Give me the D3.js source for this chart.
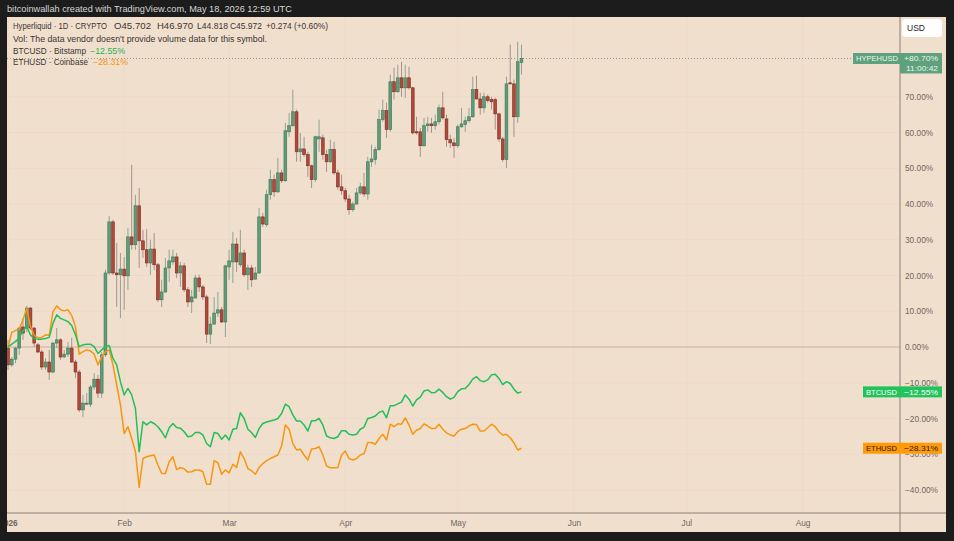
<!DOCTYPE html>
<html>
<head>
<meta charset="utf-8">
<script src="https://cdn.jsdelivr.net/npm/d3@7/dist/d3.min.js"></script>
<style>
  body { margin: 0; background: #1c1c1c; }
  svg { display: block; font-family: "Liberation Sans", Arial, sans-serif; }
</style>
</head>
<body>
<svg id="chart" width="954" height="541"></svg>
<script>
// daily candles, Jan 1 .. May 18 2026, values in % vs first close
const days = d3.utcDay.range(new Date(Date.UTC(2026, 0, 1)), new Date(Date.UTC(2026, 4, 19)));

const hypeOpen = [-0.3,-5.0,-3.4,-0.3,5.6,5.3,10.9,5.3,0.6,-1.4,-5.6,-4.2,-7.0,1.1,2.0,-2.8,-2.0,-0.3,-4.2,-7.0,
  -17.6,-16.0,-16.0,-11.2,-9.0,-12.9,-2.2,20.7,35.0,20.7,20.2,21.8,19.9,30.8,28.6,39.5,29.7,27.2,23.5,27.4,
  23.0,13.2,15.4,22.1,23.8,25.2,20.7,22.7,16.0,12.6,13.7,19.3,16.8,14.0,3.6,6.4,9.5,10.4,7.0,22.4,
  23.8,28.8,23.0,26.3,20.2,22.1,19.0,20.7,36.4,34.2,42.6,46.8,43.4,48.7,46.5,60.2,61.9,65.8,54.6,55.4,
  53.8,50.7,46.8,58.2,58.5,53.8,51.8,55.2,48.7,44.8,43.7,41.4,38.4,40.0,43.1,44.8,42.8,51.8,52.4,55.2,
  63.6,66.1,60.8,74.2,71.4,75.3,72.5,75.3,72.5,60.2,60.2,56.3,61.9,62.4,61.9,63.0,66.9,63.8,58.0,57.1,
  56.3,61.6,62.2,63.3,64.4,72.0,69.4,66.9,70.0,69.2,69.2,65.2,58.2,52.4,73.9,73.6,64.4,79.6];
const hypeHigh = [2.0,-2.8,0,5.6,8.1,11.5,11.2,5.6,1.1,-0.8,-3.1,-0.8,1.4,5.3,2.5,-0.8,1.4,2.5,-3.6,-6.4,
  -13.4,-12.9,-10.6,-7.3,-7.8,-1.4,21.6,36.7,35.6,29.1,26.3,25.2,33.3,51.0,42.6,44.5,32.8,33.0,30.0,31.9,
  23.5,18.8,24.9,27.2,27.2,26.3,23.8,23.5,16.8,16.0,20.2,20.2,17.4,14.6,8.4,14.0,15.4,11.2,23.0,27.2,
  32.2,30.5,32.8,27.2,23.0,23.0,22.4,38.9,37.5,44.0,49.6,48.2,52.9,49.6,62.7,65.5,72.0,66.4,59.9,58.8,
  54.6,51.0,59.1,63.6,59.4,55.2,58.0,57.4,49.6,48.2,44.5,42.6,40.6,44.5,45.9,48.7,53.2,56.6,56.0,66.4,
  69.2,68.3,76.2,78.1,79.0,79.8,79.0,78.4,72.8,64.4,61.3,64.1,64.4,64.1,65.0,67.8,71.4,65.0,59.4,58.5,
  62.2,66.9,64.4,66.9,75.6,75.9,71.1,71.1,70.6,70.0,69.7,65.5,58.8,75.6,84.6,74.8,85.4,84.6];
const hypeLow = [-6.4,-5.6,-4.5,-2.2,2.0,4.2,4.8,0,-1.7,-6.4,-6.4,-9.2,-7.3,-0.3,-3.6,-3.1,-2.8,-4.5,-8.7,-18.2,
  -19.6,-16.2,-16.8,-12.0,-14.3,-14.3,-2.8,20.2,20.2,11.2,8.1,10.4,16.0,27.2,27.2,22.1,24.9,22.4,20.2,21.6,
  12.6,11.2,15.1,18.2,23.0,19.3,16.8,15.4,11.2,9.5,13.7,15.4,13.2,1.1,0.8,6.2,8.4,6.7,2.8,18.8,
  17.9,21.0,22.4,19.6,16.0,16.8,18.8,20.4,33.6,33.6,41.2,42.0,43.1,45.9,46.2,58.8,61.6,51.8,51.8,53.2,
  47.6,44.5,46.2,54.6,52.4,49.0,51.5,48.2,44.0,42.6,40.6,37.0,37.8,39.8,42.6,42.0,41.2,50.4,51.0,54.9,
  63.0,58.5,60.2,69.2,71.1,70.0,69.7,72.0,59.4,59.4,53.2,56.0,60.2,59.9,60.8,62.2,63.6,56.0,55.7,52.9,
  55.7,61.3,60.2,62.7,64.1,69.2,65.0,65.5,68.3,66.4,60.8,57.4,51.8,50.1,73.4,58.8,62.7,76.2];
const hypeClose = [-5.0,-3.4,-0.3,5.3,3.9,10.9,5.3,1.1,-1.4,-5.6,-4.2,-7.0,1.1,2.0,-2.8,-2.0,-0.3,-4.2,-7.0,-17.6,
  -15.7,-15.7,-11.2,-9.0,-12.9,-2.2,20.7,35.0,20.7,20.2,21.8,19.9,30.8,28.6,39.5,29.7,27.2,23.5,27.4,23.0,
  13.2,15.4,22.1,24.1,25.2,20.7,22.7,16.0,12.6,14.0,19.3,16.8,14.0,3.6,6.4,9.5,10.4,7.0,22.7,24.1,
  28.8,23.8,26.3,20.2,22.1,18.8,20.7,36.4,34.4,42.6,46.8,43.4,48.7,46.5,60.5,61.9,65.8,54.6,55.4,53.8,
  50.7,46.8,58.8,58.8,53.8,51.8,55.2,48.7,44.8,43.7,41.4,38.4,40.0,43.1,44.8,42.8,51.8,52.6,55.2,63.6,
  66.1,60.8,74.2,71.4,75.3,72.5,75.3,72.5,59.9,59.9,56.3,61.9,62.4,61.9,63.0,66.9,64.1,58.0,57.1,56.3,
  61.6,62.4,63.3,64.4,72.0,69.4,66.9,70.0,68.9,68.6,65.2,58.2,52.4,73.6,73.6,64.4,79.8,80.7];

const btcPct = [0,0.8,1.5,2.6,4.5,5.7,3.4,2.4,2.2,2.2,2.4,2.7,6.6,9.0,8.0,7.6,7.1,6.0,3.4,0.1,
  0.6,0.8,0.8,0.1,-1.8,-0.8,0.1,0.4,-3.2,-5.0,-9.7,-13.4,-11.6,-13.4,-17.2,-29.3,-20.9,-21.8,-20.9,-21.4,
  -22.3,-23.7,-25.4,-22.6,-21.4,-22.5,-22.7,-23.7,-25.1,-24.9,-23.9,-23.9,-24.6,-27.0,-27.9,-23.9,-24.2,-25.8,-24.6,-26.0,
  -23.0,-22.8,-18.4,-20.0,-23.0,-24.0,-25.3,-22.8,-21.4,-21.0,-20.7,-20.4,-20.0,-18.6,-16.0,-16.7,-19.0,-20.7,-20.7,-21.8,
  -23.5,-20.6,-20.6,-20.0,-21.8,-24.9,-25.4,-25.6,-25.1,-23.4,-23.4,-24.4,-24.6,-24.4,-23.0,-22.4,-20.0,-19.7,-19.3,-18.3,
  -17.9,-19.8,-16.4,-16.4,-15.9,-15.4,-13.4,-14.6,-16.5,-14.8,-14.0,-12.3,-12.0,-12.8,-12.7,-11.8,-12.7,-13.9,-14.6,-14.1,
  -12.5,-11.7,-11.6,-10.5,-9.0,-8.3,-9.4,-9.7,-9.2,-7.8,-7.6,-8.8,-10.5,-9.7,-10.2,-11.8,-12.9,-12.55];
const ethPct = [0,4.1,4.6,5.0,7.6,10.8,5.7,3.2,2.6,2.6,3.4,3.2,9.9,11.5,10.4,10.1,10.4,8.8,5.7,-2.0,
  -1.3,-0.8,-1.1,-2.0,-5.0,-2.7,-1.3,-0.8,-5.0,-10.6,-16.2,-24.2,-22.3,-25.6,-29.3,-39.3,-31.2,-30.7,-30.4,-30.2,
  -33.0,-35.4,-35.4,-32.1,-30.7,-34.3,-33.7,-34.1,-35.0,-34.9,-34.4,-34.4,-34.9,-38.4,-38.4,-31.8,-32.4,-35.6,-34.4,-35.2,
  -32.8,-33.7,-29.3,-31.2,-34.0,-34.6,-35.6,-33.7,-32.6,-31.8,-31.2,-30.7,-30.2,-27.7,-21.8,-23.0,-27.0,-28.8,-28.6,-30.2,
  -31.6,-28.5,-28.4,-27.9,-30.2,-33.3,-33.8,-33.8,-33.7,-30.2,-29.1,-31.2,-31.6,-31.2,-30.2,-29.8,-26.7,-26.7,-27.2,-25.6,
  -24.4,-26.0,-21.6,-22.3,-21.5,-21.6,-19.8,-21.8,-24.4,-23.3,-22.8,-21.5,-22.1,-22.8,-22.8,-21.6,-23.0,-24.0,-24.6,-24.9,
  -23.7,-23.0,-22.8,-22.1,-21.6,-21.7,-23.5,-23.5,-22.6,-21.6,-22.3,-23.7,-24.6,-24.4,-25.4,-26.8,-28.8,-28.31];

// 80% sits under the HYPEHUSD tag in the original, so it is left out
const yTicks = [-40, -30, -20, -10, 0, 10, 20, 30, 40, 50, 60, 70];
const monthTicks = [0, 1, 2, 3, 4, 5, 6, 7].map(m => new Date(Date.UTC(2026, m, 1)));
const monthLabels = ["2026", "Feb", "Mar", "Apr", "May", "Jun", "Jul", "Aug"];

const svg = d3.select("#chart");
const panelL = 7, panelR = 946, panelT = 17, panelB = 532;
const plotR = 900, plotB = 513;

const pctFmt = v => (v < 0 ? "\u2212" : "") + Math.abs(v).toFixed(2) + "%";

const x = d3.scaleUtc()
  .domain([new Date(Date.UTC(2026, 0, 1)), new Date(Date.UTC(2026, 7, 27))])
  .range([8, plotR]);
const y = d3.scaleLinear().domain([-40, 70]).range([490, 96.75]);

// top caption
svg.append("text").attr("x", 7).attr("y", 12)
  .attr("fill", "#d6d6d6").attr("font-size", 9.2)
  .text("bitcoinwallah created with TradingView.com, May 18, 2026 12:59 UTC");

// chart panel
svg.append("rect").attr("x", panelL).attr("y", panelT)
  .attr("width", panelR - panelL).attr("height", panelB - panelT)
  .attr("fill", "#f1dfce");

svg.append("clipPath").attr("id", "plotclip").append("rect")
  .attr("x", panelL).attr("y", panelT).attr("width", plotR - panelL).attr("height", plotB - panelT);
svg.append("clipPath").attr("id", "panelclip").append("rect")
  .attr("x", panelL).attr("y", panelT).attr("width", panelR - panelL).attr("height", panelB - panelT);

const plot = svg.append("g").attr("clip-path", "url(#plotclip)");

// faint grid
plot.selectAll(".vgrid").data(monthTicks).enter().append("line")
  .attr("x1", d => x(d)).attr("x2", d => x(d))
  .attr("y1", panelT).attr("y2", plotB)
  .attr("stroke", "#ecd9c7").attr("stroke-width", 1);
plot.selectAll(".hgrid").data(yTicks).enter().append("line")
  .attr("x1", panelL).attr("x2", plotR)
  .attr("y1", d => y(d)).attr("y2", d => y(d))
  .attr("stroke", "#ecd9c7").attr("stroke-width", 1);

// zero line
plot.append("line").attr("x1", panelL).attr("x2", plotR)
  .attr("y1", y(0)).attr("y2", y(0))
  .attr("stroke", "#c4b3a3").attr("stroke-width", 1);

// last price dotted line
const lastHype = hypeClose[hypeClose.length - 1];
plot.append("line").attr("x1", panelL).attr("x2", plotR)
  .attr("y1", y(lastHype)).attr("y2", y(lastHype))
  .attr("stroke", "#8f9a92").attr("stroke-width", 1).attr("stroke-dasharray", "1,2");

// candles
const candles = days.map((d, i) => ({
  date: d, o: hypeOpen[i], h: hypeHigh[i], l: hypeLow[i], c: hypeClose[i]
}));
const bw = 2.8;
const cg = plot.append("g");
cg.selectAll(".wick").data(candles).enter().append("line")
  .attr("x1", d => x(d.date)).attr("x2", d => x(d.date))
  .attr("y1", d => y(d.h)).attr("y2", d => y(d.l))
  .attr("stroke", d => d.c >= d.o ? "#8fa395" : "#a8908a").attr("stroke-width", 1);
cg.selectAll(".body").data(candles).enter().append("rect")
  .attr("x", d => x(d.date) - bw / 2)
  .attr("y", d => y(Math.max(d.o, d.c)))
  .attr("width", bw)
  .attr("height", d => Math.max(1, Math.abs(y(d.o) - y(d.c))))
  .attr("fill", d => d.c >= d.o ? "#5f9d79" : "#b2483a")
  .attr("stroke", d => d.c >= d.o ? "#3f7657" : "#7c2c22")
  .attr("stroke-width", 0.6);

// comparison lines
const line = d3.line().x((d, i) => x(days[i])).y(d => y(d));
plot.append("path").datum(ethPct).attr("d", line)
  .attr("fill", "none").attr("stroke", "#f7960f").attr("stroke-width", 1.5)
  .attr("stroke-linejoin", "round");
plot.append("path").datum(btcPct).attr("d", line)
  .attr("fill", "none").attr("stroke", "#22bf5a").attr("stroke-width", 1.5)
  .attr("stroke-linejoin", "round");

// axis borders
svg.append("line").attr("x1", panelL).attr("x2", panelR).attr("y1", plotB).attr("y2", plotB)
  .attr("stroke", "#8a8178").attr("stroke-width", 1);
svg.append("line").attr("x1", plotR).attr("x2", plotR).attr("y1", panelT).attr("y2", panelB)
  .attr("stroke", "#8a8178").attr("stroke-width", 1);

// bottom axis labels
const xAxis = d3.axisBottom(x).tickValues(monthTicks).tickSize(0)
  .tickFormat((d, i) => monthLabels[i]);
const gx = svg.append("g").attr("clip-path", "url(#panelclip)")
  .append("g").attr("transform", "translate(0," + (plotB + 4) + ")").call(xAxis);
gx.select(".domain").remove();
gx.selectAll("text").attr("fill", "#6e6760").attr("font-size", 8.3)
  .attr("font-family", "'Liberation Sans', Arial, sans-serif")
  .attr("font-weight", (d, i) => i === 0 ? "bold" : null);

// right axis labels
const yAxis = d3.axisRight(y).tickValues(yTicks).tickSize(0).tickFormat(pctFmt);
const gy = svg.append("g").attr("transform", "translate(" + (plotR + 5) + ",0)").call(yAxis);
gy.select(".domain").remove();
gy.selectAll("text").attr("x", 0).attr("fill", "#6e6760").attr("font-size", 8.3)
  .attr("font-family", "'Liberation Sans', Arial, sans-serif");

// USD box
svg.append("rect").attr("x", 902).attr("y", 19).attr("width", 40).attr("height", 18)
  .attr("rx", 3).attr("fill", "#ffffff");
svg.append("text").attr("x", 907).attr("y", 31).attr("fill", "#222").attr("font-size", 8.5).text("USD");

// price labels on the right
function priceTag(val, name, color, textColor, left, nameLen, extra) {
  const yy = y(val);
  const g = svg.append("g");
  g.append("rect").attr("x", left).attr("y", yy - 5.5).attr("width", 942 - left).attr("height", 11)
    .attr("fill", color);
  g.append("text").attr("x", left + 3).attr("y", yy + 3).attr("fill", textColor)
    .attr("font-size", 8).attr("textLength", nameLen).attr("lengthAdjust", "spacingAndGlyphs")
    .text(name);
  g.append("text").attr("x", 904).attr("y", yy + 3).attr("fill", textColor)
    .attr("font-size", 8).attr("textLength", 34).attr("lengthAdjust", "spacingAndGlyphs")
    .text((val < 0 ? "\u2212" : "+") + Math.abs(val).toFixed(2) + "%");
  if (extra) {
    g.append("rect").attr("x", plotR).attr("y", yy + 5.5).attr("width", 42).attr("height", 9.5)
      .attr("fill", color);
    g.append("text").attr("x", 906).attr("y", yy + 13).attr("fill", textColor)
      .attr("font-size", 8).attr("textLength", 32).attr("lengthAdjust", "spacingAndGlyphs")
      .text(extra);
  }
  return g;
}
priceTag(lastHype, "HYPEHUSD", "#5fa17c", "#e9f5ee", 853, 42, "11:00:42");
priceTag(btcPct[btcPct.length - 1], "BTCUSD", "#22c35d", "#ffffff", 863, 31);
priceTag(ethPct[ethPct.length - 1], "ETHUSD", "#ff9b0a", "#2b1a05", 863, 31);

// legend block
const legend = svg.append("g").attr("font-size", 8.4).attr("fill", "#3a3632");
function seg(t, x0, s, len) {
  const ts = t.append("tspan").attr("x", x0).text(s);
  if (len) ts.attr("textLength", len).attr("lengthAdjust", "spacingAndGlyphs");
  return ts;
}
const row1 = legend.append("text").attr("y", 29);
seg(row1, 13, "Hyperliquid \u00b7 1D \u00b7 CRYPTO", 94);
seg(row1, 114, "O45.702", 37);
seg(row1, 157, "H46.970", 36);
seg(row1, 197, "L44.818", 31);
seg(row1, 230, "C45.972", 32);
seg(row1, 266, "+0.274 (+0.60%)", 62);
legend.append("text").attr("x", 13).attr("y", 42)
  .attr("textLength", 254).attr("lengthAdjust", "spacingAndGlyphs")
  .text("Vol: The data vendor doesn't provide volume data for this symbol.");
const row3 = legend.append("text").attr("y", 54);
seg(row3, 13, "BTCUSD \u00b7 Bitstamp", 73);
seg(row3, 90, pctFmt(btcPct[btcPct.length - 1]), 35).attr("fill", "#22b455");
const row4 = legend.append("text").attr("y", 65);
seg(row4, 13, "ETHUSD \u00b7 Coinbase", 75);
seg(row4, 93, pctFmt(ethPct[ethPct.length - 1]), 35).attr("fill", "#f5940c");
</script>
</body>
</html>
